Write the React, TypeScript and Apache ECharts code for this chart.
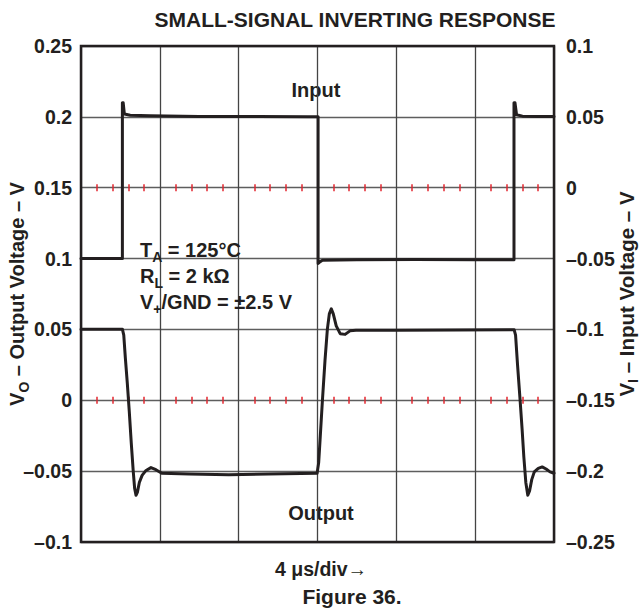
import React, { useEffect, useRef } from 'react';
import * as echarts from 'echarts';

// ---- data (time in µs, voltage in V) ----
const timeMin = 0;
const timeMax = 24;
const timeStep = 4; // 4 µs/div

const leftTickLabels = ['–0.1', '–0.05', '0', '0.05', '0.1', '0.15', '0.2', '0.25'];
const rightTickLabels = ['–0.25', '–0.2', '–0.15', '–0.1', '–0.05', '0', '0.05', '0.1'];

// Input (right axis)
const inputTime = [0, 2.1, 2.1, 2.14, 2.2, 2.5, 3.5, 6, 9, 11.5, 12.03, 12.03, 12.1, 12.25, 14, 17, 20, 21.97, 21.97, 22.02, 22.1, 22.4, 23.2, 24];
const inputVolt = [-0.05, -0.05, 0.06, 0.06, 0.052, 0.0512, 0.0508, 0.0502, 0.0502, 0.05, 0.05, -0.0535, -0.0525, -0.0512, -0.0508, -0.0506, -0.0508, -0.0508, 0.06, 0.06, 0.0515, 0.0505, 0.0502, 0.0502];

// Output (left axis)
const outputTime = [0, 2.1, 2.17, 2.25, 2.35, 2.45, 2.55, 2.65, 2.72, 2.79, 2.86, 2.96, 3.1, 3.3, 3.55, 3.8, 4.1, 5.5, 7.5, 9.5, 11.98, 12.06, 12.13, 12.25, 12.38, 12.5, 12.6, 12.7, 12.8, 12.95, 13.15, 13.4, 13.65, 13.95, 16, 19, 21.98, 22.05, 22.15, 22.27, 22.38, 22.47, 22.57, 22.67, 22.76, 22.87, 23.0, 23.2, 23.4, 23.6, 23.8, 24];
const outputVolt = [0.0502, 0.0502, 0.046, 0.03, 0.012, -0.008, -0.03, -0.05, -0.062, -0.067, -0.065, -0.058, -0.053, -0.0495, -0.0475, -0.049, -0.0515, -0.052, -0.0525, -0.052, -0.0515, -0.044, -0.028, 0.0, 0.028, 0.05, 0.061, 0.0645, 0.061, 0.0525, 0.047, 0.0465, 0.049, 0.0495, 0.0495, 0.0496, 0.0497, 0.046, 0.025, 0.002, -0.02, -0.04, -0.058, -0.067, -0.064, -0.056, -0.0505, -0.048, -0.047, -0.0485, -0.0505, -0.0515];

const TITLE = 'SMALL-SIGNAL INVERTING RESPONSE';
const FONT = '"Liberation Sans", Arial, Helvetica, sans-serif';
const INK = '#231f20';

const tickAxis = (yIdx: number, inside: boolean) => ({
  type: 'value',
  min: timeMin,
  max: timeMax,
  interval: timeStep,
  position: 'bottom',
  axisLine: { show: false, onZero: true, onZeroAxisIndex: yIdx },
  axisTick: { show: false, inside },
  minorTick: { show: true, splitNumber: 5, length: 3.5, lineStyle: { color: '#e3262f', width: 1.5 } },
  axisLabel: { show: false },
  splitLine: { show: false },
  minorSplitLine: { show: false },
});

const labelFmt = (labels: string[], min: number) => (v: number) => {
  const i = Math.round((v - min) / 0.05);
  return labels[i] ?? '';
};

export default function App() {
  const ref = useRef<HTMLDivElement>(null);
  useEffect(() => {
    if (!ref.current) return;
    const chart = echarts.init(ref.current, null, { renderer: 'svg' });
    const sub = { fontSize: 14, lineHeight: 14, verticalAlign: 'bottom', fontWeight: 'bold', fontFamily: FONT, fill: INK };
    const baseText = { fontSize: 20, fontWeight: 'bold', fontFamily: FONT, fill: INK, lineHeight: 28 };
    chart.setOption({
      animation: false,
      backgroundColor: '#ffffff',
      grid: { left: 81, top: 46, width: 473, height: 496, show: true, borderColor: INK, borderWidth: 2.5, backgroundColor: 'transparent', z: 3 },
      xAxis: [
        {
          type: 'value', min: timeMin, max: timeMax, interval: timeStep,
          axisLine: { show: false, onZero: false }, axisTick: { show: false }, axisLabel: { show: false },
          splitLine: { show: true, lineStyle: { color: '#444444', width: 1.3 } },
        },
        tickAxis(0, true), tickAxis(0, false), tickAxis(1, true), tickAxis(1, false),
      ],
      yAxis: [
        {
          type: 'value', position: 'left', min: -0.1, max: 0.25, interval: 0.05,
          axisLine: { show: false }, axisTick: { show: false },
          axisLabel: { formatter: labelFmt(leftTickLabels, -0.1), fontSize: 19.5, fontWeight: 'bold', fontFamily: FONT, color: INK, margin: 9, padding: [10, 0, 0, 0] },
          splitLine: { show: true, lineStyle: { color: '#5e5e5e', width: 1.3 } },
        },
        {
          type: 'value', position: 'right', min: -0.25, max: 0.1, interval: 0.05,
          axisLine: { show: false }, axisTick: { show: false },
          axisLabel: { formatter: labelFmt(rightTickLabels, -0.25), fontSize: 19.5, fontWeight: 'bold', fontFamily: FONT, color: INK, margin: 12 },
          splitLine: { show: false },
        },
      ],
      series: [
        {
          name: 'Input', type: 'line', xAxisIndex: 0, yAxisIndex: 1, symbol: 'none', z: 5,
          data: inputTime.map((t, i) => [t, inputVolt[i]]),
          lineStyle: { color: INK, width: 3, join: 'round', cap: 'round' },
        },
        {
          name: 'Output', type: 'line', xAxisIndex: 0, yAxisIndex: 0, symbol: 'none', z: 5,
          data: outputTime.map((t, i) => [t, outputVolt[i]]),
          lineStyle: { color: INK, width: 3, join: 'round', cap: 'round' },
        },
      ],
      graphic: [
        { type: 'text', x: 355, y: 19, style: { text: TITLE, fontSize: 21, fontWeight: 'bold', fontFamily: FONT, fill: INK, align: 'center', verticalAlign: 'middle' } },
        { type: 'text', x: 17, y: 294, rotation: Math.PI / 2, style: { ...baseText, text: 'V{s|O} – Output Voltage – V', align: 'center', verticalAlign: 'middle', rich: { s: sub } } },
        { type: 'text', x: 626, y: 294, rotation: Math.PI / 2, style: { ...baseText, fontSize: 20.5, text: 'V{s|I} – Input Voltage – V', align: 'center', verticalAlign: 'middle', rich: { s: sub } } },
        { type: 'text', x: 140, y: 250, z: 10, style: { ...baseText, text: 'T{s|A} = 125°C', align: 'left', verticalAlign: 'middle', rich: { s: sub } } },
        { type: 'text', x: 140, y: 276, z: 10, style: { ...baseText, text: 'R{s|L} = 2 kΩ', align: 'left', verticalAlign: 'middle', rich: { s: sub } } },
        { type: 'text', x: 140, y: 302, z: 10, style: { ...baseText, text: 'V{s|+}/GND = ±2.5 V', align: 'left', verticalAlign: 'middle', rich: { s: sub } } },
        { type: 'text', x: 316, y: 90, style: { text: 'Input', fontSize: 20, fontWeight: 'bold', fontFamily: FONT, fill: INK, align: 'center', verticalAlign: 'middle' } },
        { type: 'text', x: 321, y: 513, style: { text: 'Output', fontSize: 20, fontWeight: 'bold', fontFamily: FONT, fill: INK, align: 'center', verticalAlign: 'middle' } },
        { type: 'text', x: 321, y: 569, style: { text: '4 μs/div→', fontSize: 19.5, fontWeight: 'bold', fontFamily: FONT, fill: INK, align: 'center', verticalAlign: 'middle' } },
        { type: 'text', x: 352, y: 596, style: { text: 'Figure 36.', fontSize: 21, fontWeight: 'bold', fontFamily: FONT, fill: INK, align: 'center', verticalAlign: 'middle' } },
      ],
    });
    return () => chart.dispose();
  }, []);
  return <div ref={ref} style={{ position: 'fixed', left: 0, top: 0, width: 642, height: 612, background: '#fff' }} />;
}
